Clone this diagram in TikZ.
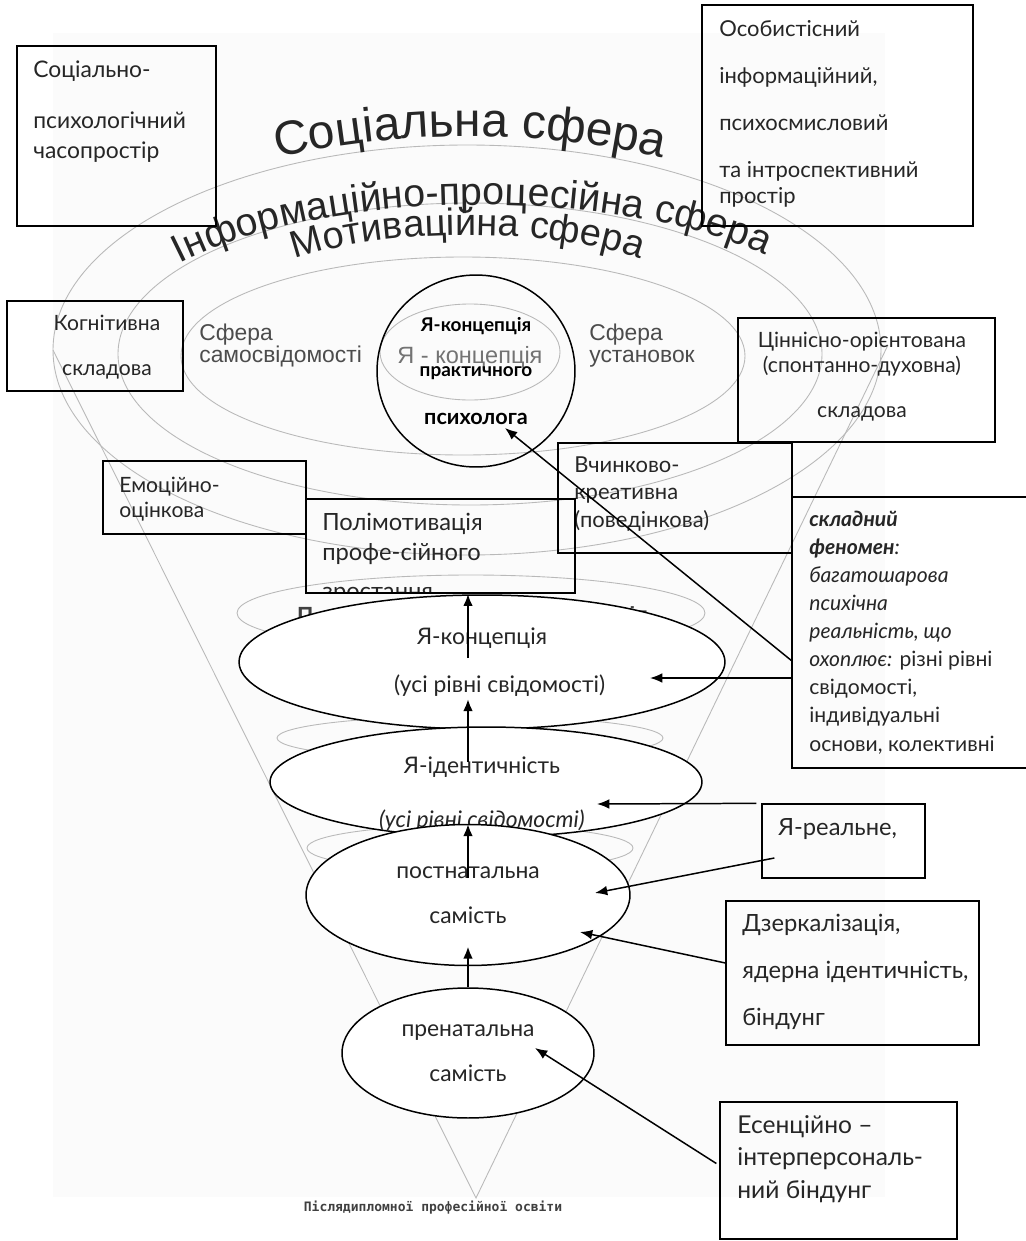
\documentclass[tikz,border=0pt]{standalone}
\usepackage{fontspec}
\setmainfont{Lato}
\newfontfamily\arialfont{Liberation Sans}
\newfontfamily\pixfont{DejaVu Sans Mono}
\usetikzlibrary{shapes,arrows.meta,positioning,calc,decorations.text}
\newcommand{\fz}[2]{\fontsize{#1}{#2}\selectfont}

\tikzset{
  box/.style={draw, line width=0.75pt, inner sep=0pt},
  txt/.style={inner sep=0pt, align=left, anchor=base west, text=black!85},
  ctxt/.style={inner sep=0pt, align=center, anchor=base, text=black!85},
  gline/.style={gray!55, line width=0.5pt},
  oval/.style={draw, ellipse, fill=white, line width=0.85pt, inner sep=0pt, align=center, text=black!85},
  sphtxt/.style={inner sep=0pt, align=left, anchor=base west, text=black!70},
  varr/.style={line width=1.4pt, -{Latex[length=7pt,width=5.5pt]}},
  arr/.style={line width=0.85pt, -{Latex[length=7pt,width=5.5pt]}}
}

\begin{document}
\begin{tikzpicture}[x=0.02cm, y=-0.02cm]
    \useasboundingbox (0,0) rectangle (1025,1241);
    \fill[gray!3] (53,33) rectangle (885,1197);

    % funnel with the spheres
    \draw[gline] (467,350) ellipse [x radius=414, y radius=205];
    \draw[gline] (470,354) ellipse [x radius=352, y radius=151];
    \draw[gline] (463,356) ellipse [x radius=282, y radius=99];
    \draw[gline] (470,352) ellipse [x radius=90, y radius=48];
    \draw[gline] (53,350) -- (476,1198) -- (888,345);
    \draw[gline] (471,613) ellipse [x radius=234, y radius=38];
    \draw[gline] (470,738) ellipse [x radius=193, y radius=22];
    \draw[gline] (470,848) ellipse [x radius=163, y radius=23];

    % sphere names on the arcs
    \path[decorate, decoration={text along path, text align=center, text color=black!85,
        text={|\arialfont\fz{27.3}{30}|Соціальна сфера}}]
        (275,158) .. controls (405,129) and (535,129) .. (665,158);
    \path[decorate, decoration={text along path, text align=center, text color=black!85,
        text={|\arialfont\fz{22.4}{25}|Інформаційно-процесійна сфера}}]
        (180,263) .. controls (330,187) and (615,187) .. (765,255);
    \path[decorate, decoration={text along path, text align=center, text color=black!85,
        text={|\arialfont\fz{21.6}{24}|Мотиваційна сфера}}]
        (285,263) .. controls (375,226) and (560,226) .. (650,263);

    \node[sphtxt, font=\arialfont\fz{13}{12.5}] (selfaw) at (199,362) {Сфера\\самосвідомості};
    \node[sphtxt, font=\arialfont\fz{13}{12.5}] (attit) at (589,362) {Сфера\\установок};
    \node[sphtxt, text=black!55, font=\arialfont\fz{13.4}{15}] (ycon) at (397,363) {Я - концепція};
    \node[sphtxt, text=black!75, font=\arialfont\bfseries\fz{12.5}{14}] (fragP) at (297,622) {П};
    \node[sphtxt, text=black!75, font=\arialfont\bfseries\fz{12.5}{14}] (fragIa) at (629,622) {ія};

    % boxes
    \node[box, minimum width=3.98cm, minimum height=3.6cm] (soc) at (116.5,136) {};
    \node[txt, font=\fz{13}{17}] (socT) at (33,158) {Соціально-\\[12pt]психологічний\\часопростір};

    \node[box, minimum width=5.42cm, minimum height=4.42cm] (pers) at (837.5,115.5) {};
    \node[txt, font=\fz{12.5}{14.8}] (persT) at (719,203)
        {Особистісний\\[11.9pt]інформаційний,\\[11.9pt]психосмисловий\\[11.9pt]та інтроспективний\\простір};

    \node[box, minimum width=3.52cm, minimum height=1.8cm] (cog) at (95,346) {};
    \node[ctxt, font=\fz{12}{25.6}] (cogT) at (107,375) {Когнітивна\\складова};

    \node[box, minimum width=5.14cm, minimum height=2.48cm] (val) at (866.5,380) {};
    \node[ctxt, font=\fz{12}{14.2}] (valT) at (862,417)
        {Ціннісно-орієнтована\\(спонтанно-духовна)\\[11.4pt]складова};

    \node[box, minimum width=4.68cm, minimum height=2.2cm] (act) at (675,498) {};
    \node[txt, font=\fz{12.5}{15.4}] (actT) at (574,527) {Вчинково-\\креативна\\(поведінкова)};

    \node[box, minimum width=4.06cm, minimum height=1.46cm] (emo) at (204.5,497.5) {};
    \node[txt, font=\fz{12}{13.7}] (emoT) at (119,517) {Емоційно-\\оцінкова};

    \node[box, minimum width=5.38cm, minimum height=1.88cm] (poly) at (440.5,546) {};
    \begin{scope}
        \clip (306,499) rectangle (575,591);
        \node[txt, font=\fz{13.5}{17}] (polyT) at (322,599) {Полімотивація\\профе-сійного\\[5.2pt]зростання};
    \end{scope}

    \node[box, minimum width=5.06cm, minimum height=5.42cm] (cmplx) at (918.5,632.5) {};
    \node[txt, font=\fz{12}{16}] (cmplxT) at (809,751)
        {\textbf{\textit{складний}}\\\textbf{\textit{феномен}}\textit{:}\\\textit{багатошарова}\\\textit{психічна}\\
         \textit{реальність, що}\\\textit{охоплює:} різні рівні\\свідомості,\\індивідуальні\\основи, колективні};

    \node[box, minimum width=3.26cm, minimum height=1.48cm] (real) at (843.5,841) {};
    \node[txt, font=\fz{13.5}{15}] (realT) at (778,835) {Я-реальне,};

    \node[box, minimum width=5.06cm, minimum height=2.88cm] (mirror) at (852.5,973) {};
    \node[txt, font=\fz{13.5}{26.5}] (mirrorT) at (742,1025) {Дзеркалізація,\\ядерна ідентичність,\\біндунг};

    \node[box, minimum width=4.74cm, minimum height=2.74cm] (essence) at (838.5,1170.5) {};
    \node[txt, font=\fz{14}{18.5}] (essenceT) at (737,1198) {Есенційно –\\інтерперсональ-\\ний біндунг};

    % self-concept of the psychologist
    \node[draw, ellipse, line width=0.85pt, minimum width=3.96cm, minimum height=3.84cm, inner sep=0pt,
        align=center, font=\bfseries\fz{10.8}{12}] (selfc) at (476,371)
        {Я-концепція\\[13.6pt]практичного\\[15.3pt]{\fz{12.3}{13}психолога}};

    % levels of the self
    \node[oval, minimum width=9.72cm, minimum height=2.68cm, font=\fz{13}{15}] (concept) at (482,662)
        {Я-концепція\\[12.3pt]\hspace*{20pt}(усі рівні свідомості)};
    \node[oval, minimum width=8.64cm, minimum height=2.2cm] (ident) at (486,782) {};
    \node[ctxt, font=\fz{13}{15}] (identT) at (482,827) {Я-ідентичність\\[15.7pt]\textit{(усі рівні свідомості)}};
    \node[oval, minimum width=6.48cm, minimum height=2.82cm, font=\fz{13}{15}] (post) at (468,895)
        {постнатальна\\[10.6pt]самість};
    \node[oval, minimum width=5.04cm, minimum height=2.6cm, font=\fz{13}{15}] (pre) at (468,1053)
        {пренатальна\\[10.6pt]самість};

    % arrows up the funnel
    \draw[varr] (pre.north) -- ($(post.south)+(0,-20)$);
    \draw[varr] ($(post.center)+(0,-17)$) -- ($(ident.south -| post.center)+(0,-14)$);
    \draw[varr] ($(ident.center -| post.center)+(0,-20)$) -- ($(concept.south -| post.center)+(0,-31)$);
    \draw[varr] ($(concept.center -| post.center)+(0,-4)$) -- (poly.south -| post.center);

    % arrows from the boxes
    \coordinate (cTip) at (650,678);
    \coordinate (pTip) at (505,428);
    \coordinate (iTip) at (597,804);
    \coordinate (sTip) at (595,893);
    \coordinate (mTip) at (580,932);
    \coordinate (eTip) at (535,1048);
    \draw[arr] (cmplx.west |- cTip) -- (cTip);
    \draw[arr] ($(cmplx.west)+(0,28)$) -- (pTip);
    \draw[arr] ($(real.north west)+(-5,0)$) -- (iTip);
    \draw[arr] ($(real.west)+(13,17)$) -- (sTip);
    \draw[arr] ($(mirror.west)+(0,-10)$) -- (mTip);
    \draw[arr] ($(essence.west)+(-3,-7)$) -- (eTip);

    \node[text=black!75, font=\pixfont\bfseries\fz{7.4}{9}, inner sep=0pt] (foot) at (433,1208)
        {Післядипломної професійної освіти};
\end{tikzpicture}
\end{document}
